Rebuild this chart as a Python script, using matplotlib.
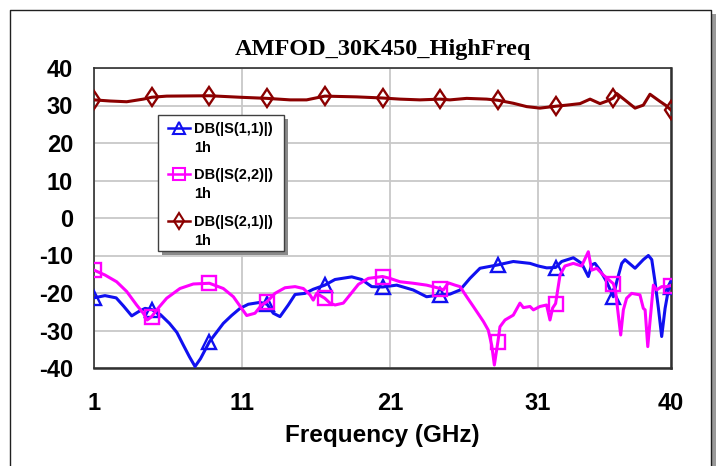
import numpy as np
import matplotlib
matplotlib.use("Agg")
import matplotlib.pyplot as plt
from matplotlib.lines import Line2D
from matplotlib.patches import Rectangle

# ---------------- data ----------------
title = "AMFOD_30K450_HighFreq"
xlabel = "Frequency (GHz)"
xticks = [1, 11, 21, 31, 40]
yticks = [-40, -30, -20, -10, 0, 10, 20, 30, 40]
marker_freq = [1.0, 4.9, 8.8, 12.7, 16.6, 20.5, 24.4, 28.3, 32.2, 36.1, 40.0]

s11_f = [1.0, 1.74, 2.5, 3.0, 3.55, 4.0, 4.45, 4.9, 5.5, 6.1, 6.6, 7.04, 7.45, 7.83, 8.2, 8.8,
         9.74, 10.3, 10.87, 11.43, 12.22, 12.7, 13.12, 13.57, 14.13, 14.59, 15.26, 15.82, 16.6,
         17.29, 18.42, 19.09, 19.77, 20.5, 21.46, 22.58, 23.48, 24.4, 25.06, 25.74, 26.41, 27.09,
         28.3, 29.34, 30.47, 31.03, 31.6, 32.2, 32.61, 33.4, 33.96, 34.19, 34.41, 34.64, 34.86,
         35.2, 35.65, 36.1, 36.33, 36.67, 36.89, 37.57, 38.13, 38.47, 38.7, 38.92, 39.15, 39.37,
         39.6, 39.82, 40.0]
s11_db = [-21.3, -20.7, -21.3, -23.5, -26.1, -25.0, -24.1, -24.4, -25.8, -28.1, -30.5, -33.9, -37.0,
          -39.6, -37.5, -33.0, -28.1, -26.0, -24.1, -23.0, -22.5, -23.0, -25.4, -26.3, -23.2, -20.4,
          -20.1, -19.0, -17.9, -16.4, -15.7, -16.4, -18.3, -18.4, -17.9, -19.2, -21.0, -20.5, -20.3,
          -19.2, -16.1, -13.4, -12.5, -11.6, -12.1, -12.8, -13.3, -13.2, -11.6, -10.6, -12.1, -13.9,
          -15.6, -12.5, -12.1, -13.9, -17.0, -21.0, -17.0, -12.1, -11.1, -13.4, -11.1, -10.0, -11.1,
          -17.0, -24.1, -31.6, -24.1, -19.2, -18.3]

s22_f = [1.0, 1.74, 2.53, 3.21, 3.88, 4.33, 4.6, 4.9, 5.24, 5.91, 6.81, 7.71, 8.8, 9.74, 10.42,
         10.87, 11.32, 11.88, 12.33, 12.7, 13.23, 13.91, 14.59, 15.15, 15.6, 15.82, 16.05, 16.6,
         16.95, 17.29, 17.85, 18.3, 18.87, 19.54, 20.5, 21.0, 21.68, 22.58, 23.48, 24.4, 24.61,
         24.95, 25.4, 25.74, 26.19, 26.64, 27.32, 27.65, 27.88, 28.06, 28.3, 28.44, 28.78, 29.34,
         29.79, 30.02, 30.47, 30.7, 31.14, 31.59, 31.82, 32.0, 32.2, 32.5, 32.83, 33.4, 33.96,
         34.41, 34.64, 34.98, 35.42, 36.1, 36.25, 36.44, 36.6, 36.78, 37.0, 37.34, 37.9, 38.13,
         38.25, 38.43, 38.58, 38.81, 39.03, 39.37, 39.71, 40.0]
s22_db = [-13.9, -15.2, -17.0, -19.6, -23.2, -25.4, -27.2, -26.3, -24.5, -21.4, -18.8, -17.6, -17.4,
          -18.8, -21.0, -23.5, -26.0, -25.4, -23.2, -22.3, -20.1, -18.6, -18.3, -18.8, -20.5, -21.9,
          -20.1, -21.4, -22.7, -23.2, -22.7, -20.5, -17.7, -16.1, -15.6, -16.1, -17.0, -17.4, -17.9,
          -18.8, -19.2, -17.3, -17.9, -18.3, -21.0, -23.6, -27.6, -29.9, -33.9, -39.2, -33.0, -29.0,
          -27.2, -25.9, -22.7, -23.9, -23.6, -24.5, -23.6, -23.2, -27.2, -24.0, -22.8, -15.2, -12.8,
          -12.1, -12.8, -9.0, -13.9, -13.4, -15.2, -17.5, -19.5, -25.9, -31.2, -24.5, -21.4, -20.1,
          -20.5, -24.1, -24.5, -34.3, -27.6, -17.9, -19.2, -18.3, -18.3, -18.0]

s21_f = [1.0, 2.08, 3.21, 4.33, 4.9, 5.91, 8.8, 10.87, 12.7, 14.25, 15.37, 16.6, 18.75, 20.5, 21.68,
         23.03, 24.4, 25.06, 26.19, 27.54, 28.3, 29.34, 30.25, 31.14, 32.2, 32.95, 33.85, 34.53,
         35.2, 35.75, 36.1, 36.33, 37.0, 37.57, 38.13, 38.58, 39.25, 39.66, 40.0]
s21_db = [31.5, 31.2, 31.0, 31.7, 32.2, 32.5, 32.6, 32.2, 31.9, 31.5, 31.5, 32.5, 32.3, 32.0, 31.7,
          31.5, 31.7, 31.5, 31.9, 31.7, 31.4, 30.6, 29.7, 29.3, 29.8, 30.1, 30.5, 31.7, 30.5, 31.3,
          32.0, 33.2, 31.1, 29.3, 30.1, 33.0, 31.1, 30.0, 28.8]

series_names = ["DB(|S(1,1)|)", "DB(|S(2,2)|)", "DB(|S(2,1)|)"]
series_sub = ["1h", "1h", "1h"]

# ---------------- styling ----------------
W, H = 716, 466
fig = plt.figure(figsize=(W / 100, H / 100), dpi=100)
fig.patch.set_facecolor("white")

def px(x):
    return x / W

def py(y):
    return 1 - y / H

L, R, T, B = 94, 671, 68, 368
ax = fig.add_axes([px(L), py(B), px(R) - px(L), py(T) - py(B)])

colors = ["#1010f0", "#ff00ff", "#8b0000"]
markers = ["^", "s", "d"]
msizes = [9.5, 9.5, 9.5]
data = [(s11_f, s11_db), (s22_f, s22_db), (s21_f, s21_db)]

for (f, v), c, m, ms in zip(data, colors, markers, msizes):
    f = np.asarray(f)
    idx = [int(np.argmin(np.abs(f - mf))) for mf in marker_freq]
    ax.plot(f, v, color=c, lw=2.2, marker=m, markevery=idx, ms=ms,
            mfc="none", mec=c, mew=1.7, zorder=3)

ax.set_xlim(1, 40)
ax.set_ylim(-40, 40)
ax.set_xticks(xticks)
ax.set_yticks(yticks)
ax.set_xticklabels([str(t) for t in xticks])
ax.set_yticklabels([str(t) for t in yticks])
ax.tick_params(axis="both", length=0, labelsize=17)
ax.tick_params(axis="x", pad=17)
ax.tick_params(axis="y", pad=15)
for lab in ax.get_xticklabels() + ax.get_yticklabels():
    lab.set_fontfamily(["Liberation Sans", "DejaVu Sans"])
    lab.set_fontweight("bold")

ax.grid(True, color="#c8c8c8", lw=1.3)
ax.set_axisbelow(True)
for side, sp in ax.spines.items():
    sp.set_color("#303030")
    sp.set_linewidth(1.2 if side in ("top", "left") else 1.8)

ax.set_xlabel(xlabel, fontsize=17.5, fontweight="bold",
              fontfamily=["Liberation Sans", "DejaVu Sans"], labelpad=7)

fig.text(px((L + R) / 2), py(49), title, ha="center", va="center",
         fontsize=17.5, fontweight="bold", fontfamily=["Liberation Serif", "DejaVu Serif"])

# ---------------- outer frame ----------------
fig.add_artist(Rectangle((px(712), py(466)), px(4), py(14) - py(466),
                         transform=fig.transFigure, facecolor="#9a9a9a", edgecolor="none"))
fig.add_artist(Line2D([px(10), px(10), px(711), px(711)], [py(470), py(9.5), py(9.5), py(470)],
                      transform=fig.transFigure, color="#202020", lw=1.0))

# ---------------- legend (manual) ----------------
lx0, ly0, lx1, ly1 = 158, 115, 284, 251
fig.add_artist(Rectangle((px(lx0 + 4), py(ly1 + 4)), px(lx1 - lx0), py(ly0) - py(ly1),
                         transform=fig.transFigure, facecolor="#8a8a8a", edgecolor="none", zorder=5))
fig.add_artist(Rectangle((px(lx0), py(ly1)), px(lx1 - lx0), py(ly0) - py(ly1),
                         transform=fig.transFigure, facecolor="white", edgecolor="#404040",
                         lw=1.0, zorder=6))
entry_y = [128, 174, 221]
for name, sub, c, m, yy in zip(series_names, series_sub, colors, markers, entry_y):
    fig.add_artist(Line2D([px(168), px(190)], [py(yy), py(yy)], transform=fig.transFigure,
                          color=c, lw=1.8, zorder=7))
    fig.add_artist(Line2D([px(179)], [py(yy)], transform=fig.transFigure, color=c, marker=m,
                          ms=8, mfc="none", mec=c, mew=1.5, zorder=7))
    fig.text(px(194), py(yy + 1), name, ha="left", va="center", fontsize=10.5,
             fontweight="bold", fontfamily=["Liberation Sans", "DejaVu Sans"], zorder=8)
    fig.text(px(194), py(yy + 20), sub, ha="left", va="center", fontsize=10.5,
             fontweight="bold", fontfamily=["Liberation Sans", "DejaVu Sans"], zorder=8)

fig.savefig("out.png", dpi=100)
